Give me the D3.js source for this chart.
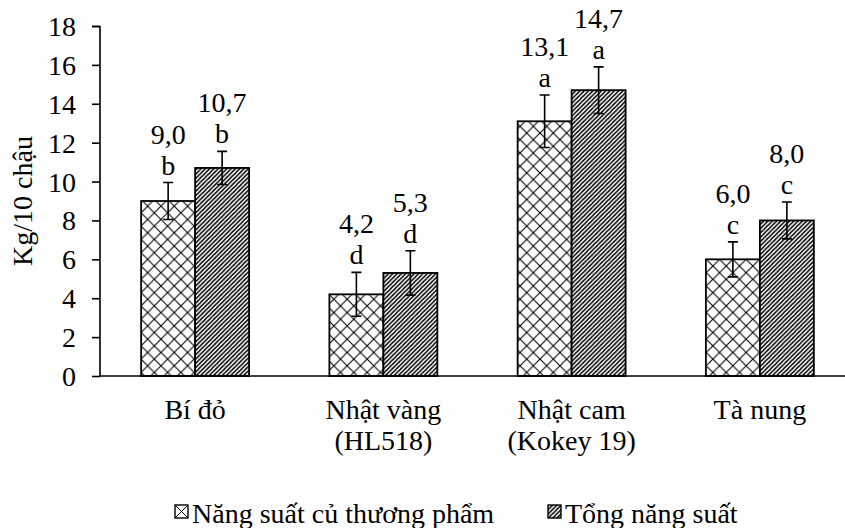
<!DOCTYPE html>
<html><head><meta charset="utf-8">
<script src="https://cdn.jsdelivr.net/npm/d3@7"></script>
<style>body{margin:0;background:#fff}svg{display:block}</style>
</head><body><svg id="c" width="845" height="528"></svg>
<script>
const categories = [["Bí đỏ"], ["Nhật vàng", "(HL518)"], ["Nhật cam", "(Kokey 19)"], ["Tà nung"]];
const seriesNames = ["Năng suất củ thương phẩm", "Tổng năng suất"];
const commercial = [9.0, 4.2, 13.1, 6.0];
const commercialErr = [0.95, 1.13, 1.35, 0.9];
const commercialLetters = ["b", "d", "a", "c"];
const total = [10.7, 5.3, 14.7, 8.0];
const totalErr = [0.85, 1.14, 1.2, 0.95];
const totalLetters = ["b", "d", "a", "c"];
const yTicks = [0, 2, 4, 6, 8, 10, 12, 14, 16, 18];

const FONT = "'Liberation Serif', Tinos, 'Times New Roman', 'DejaVu Serif', serif";
const FS = 28;
const svg = d3.select("#c").attr("font-family", FONT);
const defs = svg.append("defs");
const p1 = defs.append("pattern").attr("id", "diam").attr("patternUnits", "userSpaceOnUse")
  .attr("width", 13.3).attr("height", 13.3).attr("x", 141).attr("y", 0);
p1.append("rect").attr("width", 13.3).attr("height", 13.3).attr("fill", "#fff");
p1.append("path").attr("d", "M0,0L13.3,13.3M13.3,0L0,13.3").attr("stroke", "#000").attr("stroke-width", 1.1);
const p2 = defs.append("pattern").attr("id", "diag").attr("patternUnits", "userSpaceOnUse")
  .attr("width", 4.3).attr("height", 4.3);
p2.append("rect").attr("width", 4.3).attr("height", 4.3).attr("fill", "#fff");
p2.append("path").attr("d", "M-1,1L1,-1M0,4.3L4.3,0M3.3,5.3L5.3,3.3").attr("stroke", "#000").attr("stroke-width", 1.5);

const fills = ["url(#diam)", "url(#diag)"];
const y = d3.scaleLinear().domain([0, 18]).range([376, 26]);
const pad = 0.4265;
const x0 = d3.scaleBand().domain(d3.range(categories.length)).range([101, 854]).paddingInner(pad).paddingOuter(pad / 2);
const x1 = d3.scaleBand().domain([0, 1]).range([0, x0.bandwidth()]);

const series = [
  {vals: commercial, err: commercialErr, letters: commercialLetters},
  {vals: total, err: totalErr, letters: totalLetters}
];

function txt(sel) { return sel.attr("font-family", FONT).attr("font-size", FS).attr("fill", "#000"); }

// y axis
const yAxis = d3.axisLeft(y).tickValues(yTicks).tickSize(8).tickPadding(16).tickFormat(d3.format("d"));
const gy = svg.append("g").attr("transform", "translate(100,0)").call(yAxis);
gy.attr("font-family", FONT).attr("font-size", FS);
gy.select(".domain").attr("stroke", "#000").attr("stroke-width", 1.6).attr("d", "M-8,26.5H0V376.5");
gy.selectAll(".tick line").attr("stroke", "#000").attr("stroke-width", 1.6);
txt(gy.selectAll(".tick text")).attr("dy", "0.34em");

// bars
series.forEach((s, si) => {
  const g = svg.append("g");
  g.selectAll("rect").data(s.vals).join("rect")
    .attr("x", (d, i) => x0(i) + x1(si))
    .attr("y", d => y(d))
    .attr("width", x1.bandwidth())
    .attr("height", d => y(0) - y(d))
    .attr("fill", fills[si]).attr("stroke", "#000").attr("stroke-width", 1.8);
});

// x axis line
svg.append("line").attr("x1", 100).attr("x2", 845).attr("y1", y(0)).attr("y2", y(0)).attr("stroke", "#000").attr("stroke-width", 1.6);

// error bars and labels
series.forEach((s, si) => {
  const g = svg.append("g");
  s.vals.forEach((v, i) => {
    const cx = x0(i) + x1(si) + x1.bandwidth() / 2;
    const hi = y(v + s.err[i]), lo = y(v - s.err[i]);
    g.append("path").attr("d", `M${cx},${hi}V${lo}M${cx - 5},${hi}H${cx + 5}M${cx - 5},${lo}H${cx + 5}`)
      .attr("stroke", "#000").attr("stroke-width", 1.6).attr("fill", "none");
    const lb = hi - 8;
    txt(g.append("text")).attr("x", cx).attr("y", lb).attr("text-anchor", "middle").text(s.letters[i]);
    txt(g.append("text")).attr("x", cx).attr("y", lb - 31).attr("text-anchor", "middle")
      .text(d3.format(".1f")(v).replace(".", ","));
  });
});

// category labels
categories.forEach((lines, i) => {
  const cx = x0(i) + x0.bandwidth() / 2;
  lines.forEach((ln, k) => txt(svg.append("text")).attr("text-anchor", "middle")
    .attr("x", cx).attr("y", 419 + k * 31).text(ln));
});

// y title
txt(svg.append("text")).attr("transform", "translate(32,201) rotate(-90)").attr("text-anchor", "middle").text("Kg/10 chậu");

// legend
const legX = [175, 548];
seriesNames.forEach((n, i) => {
  svg.append("rect").attr("x", legX[i]).attr("y", 505).attr("width", 13).attr("height", 13)
    .attr("fill", i === 0 ? "#fff" : fills[1]).attr("stroke", "#000").attr("stroke-width", 1.4);
  if (i === 0) svg.append("path").attr("d", `M${legX[i]},505l13,13M${legX[i] + 13},505l-13,13`).attr("stroke", "#000").attr("stroke-width", 1);
  txt(svg.append("text")).attr("x", legX[i] + 17).attr("y", 523).text(n);
});
</script></body></html>
